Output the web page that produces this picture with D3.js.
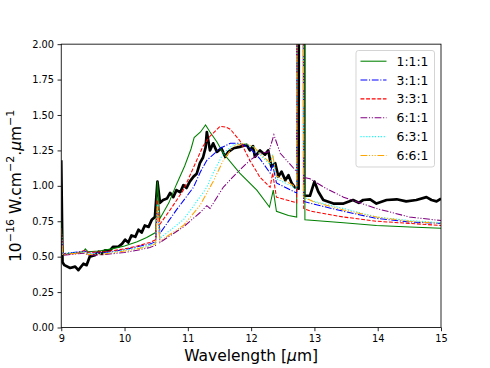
<!DOCTYPE html>
<html>
<head>
<meta charset="utf-8">
<script src="https://cdn.jsdelivr.net/npm/d3@7"></script>
<style>
  body { margin: 0; background: #fff; }
  text { font-family: "DejaVu Sans", sans-serif; }
</style>
</head>
<body>
<div id="chart"></div>
<script>
// observed spectrum [wavelength, flux]
var observed = [[9.0,1.18],[9.02,0.46],[9.05,0.44],[9.14,0.42],[9.22,0.43],[9.27,0.405],[9.35,0.45],[9.4,0.44],
  [9.45,0.50],[9.53,0.51],[9.59,0.535],[9.64,0.52],[9.69,0.545],[9.77,0.545],[9.82,0.57],[9.9,0.57],[9.96,0.59],
  [10.01,0.62],[10.06,0.60],[10.11,0.65],[10.17,0.64],[10.22,0.69],[10.27,0.67],[10.32,0.72],[10.38,0.71],
  [10.43,0.76],[10.48,0.78],[10.52,1.03],[10.56,0.88],[10.61,0.90],[10.67,0.91],[10.72,0.95],[10.77,0.92],
  [10.82,0.97],[10.88,0.955],[10.93,1.005],[10.98,0.985],[11.03,1.03],[11.09,1.065],[11.14,1.085],[11.19,1.16],
  [11.24,1.20],[11.28,1.27],[11.3,1.38],[11.35,1.25],[11.4,1.30],[11.46,1.24],[11.53,1.265],[11.59,1.205],
  [11.64,1.24],[11.72,1.265],[11.82,1.275],[11.93,1.29],[11.98,1.25],[12.03,1.28],[12.06,1.205],[12.14,1.25],
  [12.22,1.22],[12.27,1.25],[12.32,1.135],[12.38,1.16],[12.43,1.065],[12.48,1.10],[12.54,1.04],[12.59,1.075],
  [12.64,1.02],[12.69,0.99],[12.75,0.98],[12.76,5],[12.83,5],[12.84,0.93],[12.93,0.93],[13.0,1.03],[13.06,0.96],
  [13.14,0.90],[13.3,0.875],[13.46,0.875],[13.61,0.90],[13.7,0.88],[13.77,0.90],[13.88,0.905],[13.98,0.875],
  [14.14,0.90],[14.3,0.905],[14.45,0.89],[14.61,0.90],[14.77,0.92],[14.85,0.90],[14.93,0.89],[15.0,0.91]];

var model111 = [[9.0,0.75],[9.02,0.52],[9.2,0.525],[9.35,0.535],[9.38,0.555],[9.42,0.535],[9.6,0.54],[9.8,0.555],
  [10.0,0.575],[10.2,0.605],[10.35,0.635],[10.49,0.67],[10.52,1.03],[10.56,0.77],[10.7,0.88],[10.82,1.01],
  [10.95,1.14],[11.05,1.26],[11.1,1.34],[11.2,1.38],[11.28,1.43],[11.35,1.38],[11.46,1.31],[11.56,1.23],
  [11.82,1.09],[12.09,0.97],[12.29,0.85],[12.35,0.97],[12.4,0.82],[12.59,0.79],[12.72,0.78],[12.73,5],[12.84,5],
  [12.85,0.76],[13.0,0.755],[13.46,0.74],[13.98,0.72],[14.51,0.71],[15.0,0.70]];

var model311 = [[9.0,0.7],[9.02,0.52],[9.38,0.54],[9.42,0.525],[9.7,0.53],[10.0,0.55],[10.2,0.57],[10.4,0.59],
  [10.49,0.605],[10.52,0.88],[10.56,0.665],[10.82,0.83],[11.09,0.99],[11.2,1.10],[11.3,1.18],[11.51,1.265],
  [11.67,1.30],[11.82,1.30],[11.98,1.265],[12.14,1.19],[12.3,1.09],[12.34,1.15],[12.4,1.02],[12.72,0.95],
  [12.73,5],[12.82,5],[12.83,0.89],[13.0,0.87],[13.46,0.82],[13.98,0.77],[14.5,0.745],[15.0,0.735]];

var model331 = [[9.0,0.7],[9.02,0.52],[9.2,0.52],[9.38,0.545],[9.42,0.53],[9.7,0.535],[10.0,0.555],[10.2,0.575],
  [10.4,0.60],[10.49,0.62],[10.52,0.90],[10.56,0.73],[10.72,0.83],[10.93,0.97],[11.14,1.18],[11.24,1.28],
  [11.35,1.35],[11.51,1.42],[11.6,1.415],[11.67,1.40],[11.82,1.32],[11.98,1.18],[12.14,1.06],[12.3,0.99],
  [12.34,1.09],[12.4,0.92],[12.56,0.90],[12.72,0.88],[12.73,5],[12.82,5],[12.83,0.84],[12.95,0.82],
  [13.46,0.78],[13.98,0.75],[14.5,0.735],[15.0,0.72]];

var model611 = [[9.0,0.7],[9.02,0.51],[9.38,0.525],[9.42,0.51],[9.7,0.515],[10.0,0.53],[10.2,0.545],[10.4,0.565],
  [10.49,0.58],[10.52,0.85],[10.56,0.60],[10.93,0.71],[11.19,0.81],[11.3,0.86],[11.35,0.84],[11.56,0.99],
  [11.77,1.09],[11.98,1.18],[12.14,1.23],[12.28,1.24],[12.36,1.36],[12.46,1.23],[12.72,1.10],[12.73,5],
  [12.82,5],[12.83,1.06],[12.93,1.05],[13.19,0.98],[13.46,0.92],[13.98,0.84],[14.5,0.78],[15.0,0.755]];

var model631 = [[9.0,0.7],[9.02,0.52],[9.38,0.535],[9.42,0.52],[9.7,0.525],[10.0,0.545],[10.2,0.56],[10.4,0.58],
  [10.49,0.60],[10.52,0.87],[10.56,0.63],[10.93,0.76],[11.19,0.92],[11.3,0.99],[11.4,1.09],[11.56,1.23],
  [11.72,1.29],[11.88,1.30],[12.03,1.275],[12.14,1.22],[12.3,1.15],[12.34,1.22],[12.4,1.05],[12.72,0.98],
  [12.73,5],[12.82,5],[12.83,0.92],[13.0,0.89],[13.46,0.84],[13.98,0.78],[14.5,0.755],[15.0,0.74]];

var model661 = [[9.0,0.7],[9.02,0.515],[9.38,0.53],[9.42,0.515],[9.7,0.52],[10.0,0.54],[10.2,0.555],[10.4,0.575],
  [10.49,0.59],[10.52,0.86],[10.56,0.61],[10.93,0.72],[11.19,0.86],[11.3,0.95],[11.4,1.03],[11.56,1.18],
  [11.72,1.28],[11.88,1.30],[12.03,1.28],[12.14,1.23],[12.3,1.16],[12.34,1.22],[12.4,1.07],[12.72,0.99],
  [12.73,5],[12.82,5],[12.83,0.92],[13.0,0.885],[13.46,0.83],[13.98,0.78],[14.5,0.75],[15.0,0.735]];

var seriesNames = ['1:1:1', '3:1:1', '3:3:1', '6:1:1', '6:3:1', '6:6:1'];
var xTicks = [9, 10, 11, 12, 13, 14, 15];
var yTicks = [0, 0.25, 0.5, 0.75, 1.0, 1.25, 1.5, 1.75, 2.0];

var width = 490, height = 368;
var plotLeft = 61.25, plotRight = 441, plotTop = 44.16, plotBottom = 327.5;

var series = [
  {name: seriesNames[0], data: model111, color: '#008000', dash: null},
  {name: seriesNames[1], data: model311, color: '#0000ff', dash: '6.8,1.7,1.1,1.7'},
  {name: seriesNames[2], data: model331, color: '#ff0000', dash: '3.9,1.7'},
  {name: seriesNames[3], data: model611, color: '#800080', dash: '6.8,1.7,1.1,1.7,1.1,1.7'},
  {name: seriesNames[4], data: model631, color: '#00ffff', dash: '1.1,1.8'},
  {name: seriesNames[5], data: model661, color: '#ffa500', dash: '6.8,1.7,1.1,1.7,1.1,1.7,1.1,1.7'}
];

var x = d3.scaleLinear().domain([9, 15]).range([plotLeft, plotRight]);
var y = d3.scaleLinear().domain([0, 2]).range([plotBottom, plotTop]);

var svg = d3.select('#chart').append('svg')
  .attr('width', width)
  .attr('height', height);

svg.append('defs').append('clipPath').attr('id', 'plotclip')
  .append('rect')
  .attr('x', plotLeft).attr('y', plotTop)
  .attr('width', plotRight - plotLeft).attr('height', plotBottom - plotTop);

var line = d3.line()
  .x(function(d){ return x(d[0]); })
  .y(function(d){ return y(d[1]); });

var plot = svg.append('g').attr('clip-path', 'url(#plotclip)');

plot.append('path')
  .attr('d', line(observed))
  .attr('fill', 'none')
  .attr('stroke', 'black')
  .attr('stroke-width', 2.7)
  .attr('stroke-linejoin', 'round');

series.forEach(function(s){
  plot.append('path')
    .attr('d', line(s.data))
    .attr('fill', 'none')
    .attr('stroke', s.color)
    .attr('stroke-width', 1.06)
    .attr('stroke-dasharray', s.dash);
});

// axes
var xAxis = svg.append('g')
  .attr('transform', 'translate(0,' + plotBottom + ')')
  .call(d3.axisBottom(x).tickValues(xTicks).tickSize(3.7).tickPadding(3.5).tickFormat(d3.format('d')));
var yAxis = svg.append('g')
  .attr('transform', 'translate(' + plotLeft + ',0)')
  .call(d3.axisLeft(y).tickValues(yTicks).tickSize(3.7).tickPadding(3.5).tickFormat(d3.format('.2f')));

[xAxis, yAxis].forEach(function(a){
  a.select('.domain').remove();
  a.selectAll('.tick line').attr('stroke', 'black').attr('stroke-width', 0.85);
  a.selectAll('.tick text').attr('font-size', '9.8px').attr('fill', 'black')
    .attr('font-family', '"DejaVu Sans", sans-serif');
});

svg.append('rect')
  .attr('x', plotLeft).attr('y', plotTop)
  .attr('width', plotRight - plotLeft).attr('height', plotBottom - plotTop)
  .attr('fill', 'none')
  .attr('stroke', 'black')
  .attr('stroke-width', 0.85);

// axis labels
var xl = svg.append('text')
  .attr('x', (plotLeft + plotRight) / 2)
  .attr('y', 361)
  .attr('text-anchor', 'middle')
  .attr('font-size', '15.5px');
xl.append('tspan').text('Wavelength [');
xl.append('tspan').attr('font-style', 'italic').text('μ');
xl.append('tspan').text('m]');

var yl = svg.append('text')
  .attr('transform', 'translate(21,' + ((plotTop + plotBottom) / 2) + ') rotate(-90)')
  .attr('text-anchor', 'middle')
  .attr('font-size', '15.5px');
yl.append('tspan').text('10');
yl.append('tspan').attr('font-size', '11px').attr('dy', -7).text('−16');
yl.append('tspan').attr('dy', 7).text(' W.cm');
yl.append('tspan').attr('font-size', '11px').attr('dy', -7).text('−2');
yl.append('tspan').attr('dy', 7).text('.');
yl.append('tspan').attr('font-style', 'italic').text('μ');
yl.append('tspan').text('m');
yl.append('tspan').attr('font-size', '11px').attr('dy', -7).text('−1');

// legend
var legend = svg.append('g');
legend.append('rect')
  .attr('x', 356).attr('y', 50.5)
  .attr('width', 78.5).attr('height', 116.5)
  .attr('rx', 2.5)
  .attr('fill', 'white').attr('fill-opacity', 0.8)
  .attr('stroke', '#cccccc').attr('stroke-width', 0.85);

series.forEach(function(s, i){
  var ly = 61.2 + i * 18.85;
  legend.append('line')
    .attr('x1', 360.5).attr('x2', 386.5)
    .attr('y1', ly).attr('y2', ly)
    .attr('stroke', s.color)
    .attr('stroke-width', 1.06)
    .attr('stroke-dasharray', s.dash);
  legend.append('text')
    .attr('x', 396.5).attr('y', ly + 4.5)
    .attr('font-size', '12.4px')
    .text(s.name);
});
</script>
</body>
</html>
